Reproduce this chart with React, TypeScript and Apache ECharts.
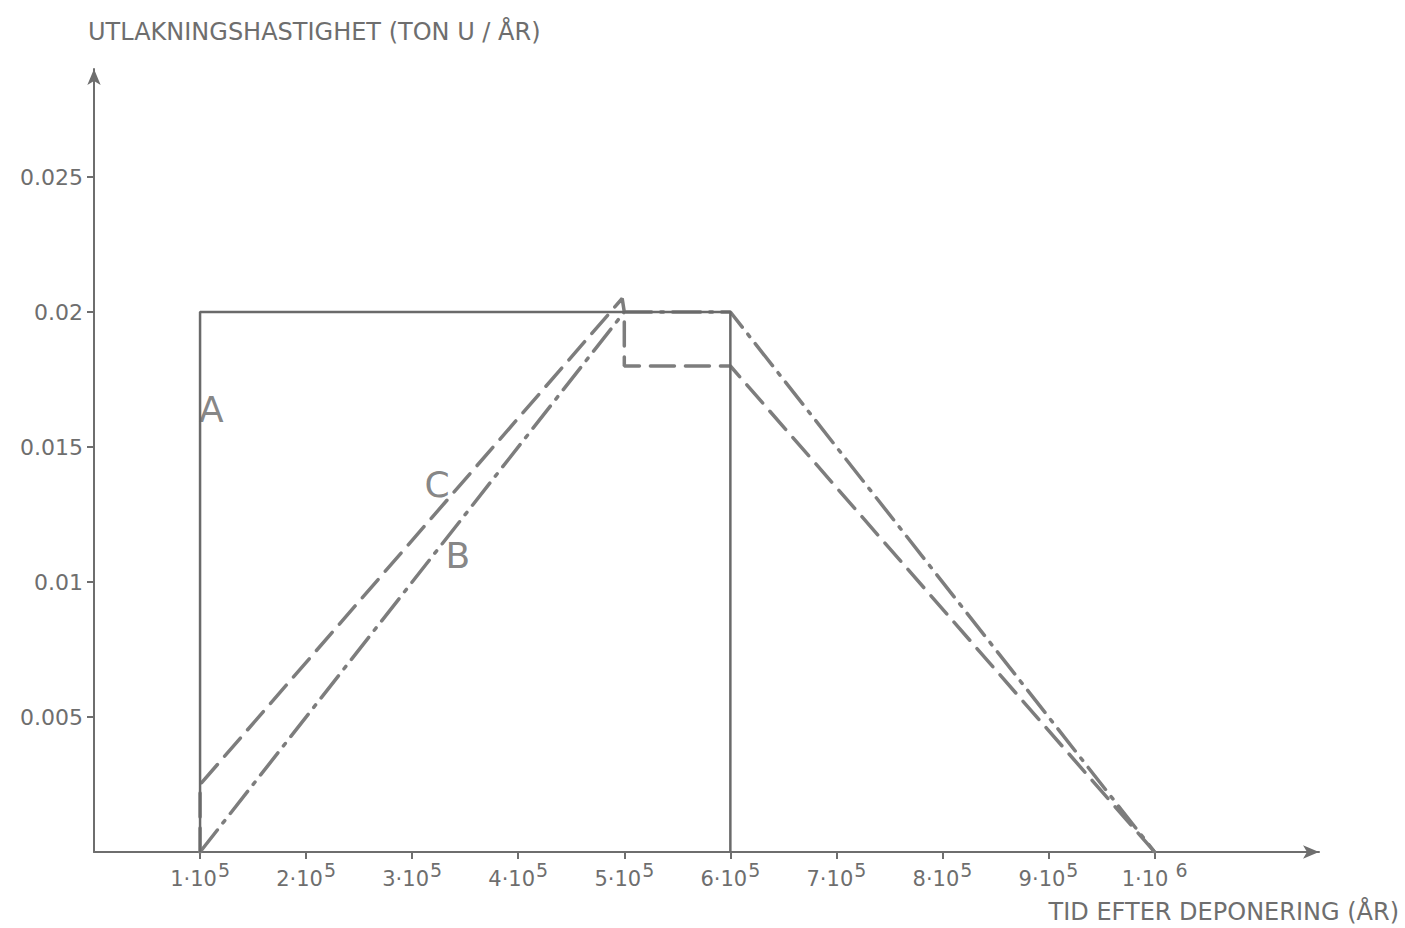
import React, { useEffect, useRef } from "react";
import * as echarts from "echarts";

const xTickValues = [100000, 200000, 300000, 400000, 500000, 600000, 700000, 800000, 900000, 1000000];
const xTickMantissa = ["1", "2", "3", "4", "5", "6", "7", "8", "9", "1"];
const xTickExponent = ["5", "5", "5", "5", "5", "5", "5", "5", "5", "6"];
const yTickValues = [0.005, 0.01, 0.015, 0.02, 0.025];
const yTickLabels = ["0.005", "0.01", "0.015", "0.02", "0.025"];

const seriesA: [number, number][] = [
  [100000, 0],
  [100000, 0.02],
  [600000, 0.02],
  [600000, 0],
];
const seriesB: [number, number][] = [
  [100000, 0],
  [500000, 0.02],
  [600000, 0.02],
  [1000000, 0],
];
const seriesC: [number, number][] = [
  [100000, 0],
  [100000, 0.0025],
  [498000, 0.0205],
  [500000, 0.02],
  [500000, 0.018],
  [600000, 0.018],
  [1000000, 0],
];
const curveLabels: { name: string; value: [number, number] }[] = [
  { name: "A", value: [110500, 0.0164] },
  { name: "C", value: [323500, 0.0136] },
  { name: "B", value: [343000, 0.011] },
];

const yTitle = "UTLAKNINGSHASTIGHET (TON U / ÅR)";
const xTitle = "TID EFTER DEPONERING (ÅR)";

const FONT = "'DejaVu Sans', 'Liberation Sans', sans-serif";
const INK = "#6e6e6e";

export default function App() {
  const ref = useRef<HTMLDivElement>(null);
  useEffect(() => {
    if (!ref.current) return;
    const chart = echarts.init(ref.current, undefined, { renderer: "svg" });
    chart.setOption({
      animation: false,
      backgroundColor: "#ffffff",
      grid: { left: 94, right: 86, top: 69, bottom: 76, containLabel: false },
      xAxis: {
        type: "value",
        min: 0,
        max: 1155000,
        axisLine: {
          show: true,
          onZero: false,
          symbol: ["none", "arrow"],
          symbolSize: [10, 16],
          symbolOffset: [0, 0],
          lineStyle: { color: INK, width: 2 },
        },
        splitLine: { show: false },
        axisTick: {
          show: true,
          customValues: xTickValues,
          length: 7,
          lineStyle: { color: INK, width: 2 },
        },
        axisLabel: {
          show: true,
          customValues: xTickValues,
          margin: 11,
          formatter: (v: number) => {
            const i = xTickValues.indexOf(v);
            if (i < 0) return "";
            const sep = i === xTickValues.length - 1 ? " " : "";
            return `{b|${xTickMantissa[i]}·10}{s|${sep}${xTickExponent[i]}}`;
          },
          rich: {
            b: { fontFamily: FONT, fontSize: 21, color: INK, verticalAlign: "bottom", lineHeight: 26 },
            s: { fontFamily: FONT, fontSize: 19, color: INK, verticalAlign: "bottom", lineHeight: 26, padding: [0, 0, 10, 1] },
          },
        },
      },
      yAxis: {
        type: "value",
        min: 0,
        max: 0.029,
        axisLine: {
          show: true,
          onZero: false,
          symbol: ["none", "arrow"],
          symbolSize: [10, 16],
          lineStyle: { color: INK, width: 2 },
        },
        splitLine: { show: false },
        axisTick: {
          show: true,
          customValues: yTickValues,
          length: 7,
          lineStyle: { color: INK, width: 2 },
        },
        axisLabel: {
          show: true,
          customValues: yTickValues,
          margin: 11,
          fontFamily: FONT,
          fontSize: 22,
          color: INK,
          formatter: (v: number) => {
            const i = yTickValues.findIndex((t) => Math.abs(t - v) < 1e-9);
            return i < 0 ? "" : yTickLabels[i];
          },
        },
      },
      graphic: [
        {
          type: "text",
          left: 88,
          top: 20,
          style: { text: yTitle, fontFamily: FONT, fontSize: 24, fill: INK },
        },
        {
          type: "text",
          right: 6,
          top: 900,
          style: { text: xTitle, fontFamily: FONT, fontSize: 24, fill: INK },
        },
      ],
      series: [
        {
          name: "A",
          type: "line",
          data: seriesA,
          symbol: "none",
          lineStyle: { color: "#6a6a6a", width: 2.5, type: "solid" },
          z: 3,
        },
        {
          name: "B",
          type: "line",
          data: seriesB,
          symbol: "none",
          lineStyle: { color: "#7d7d7d", width: 3.5, type: [28, 9, 3, 9], cap: "round" },
          z: 2,
        },
        {
          name: "C",
          type: "line",
          data: seriesC,
          symbol: "none",
          lineStyle: { color: "#7d7d7d", width: 3.5, type: [24, 11], cap: "round" },
          z: 2,
        },
        {
          name: "labels",
          type: "scatter",
          data: curveLabels,
          symbolSize: 0,
          silent: true,
          label: {
            show: true,
            position: "inside",
            formatter: (p: any) => p.name,
            fontFamily: FONT,
            fontSize: 36,
            color: "#666666",
          },
          z: 4,
        },
      ],
    });
    return () => chart.dispose();
  }, []);
  return <div ref={ref} style={{ width: 1405, height: 928, position: "absolute", left: 0, top: 0 }} />;
}
